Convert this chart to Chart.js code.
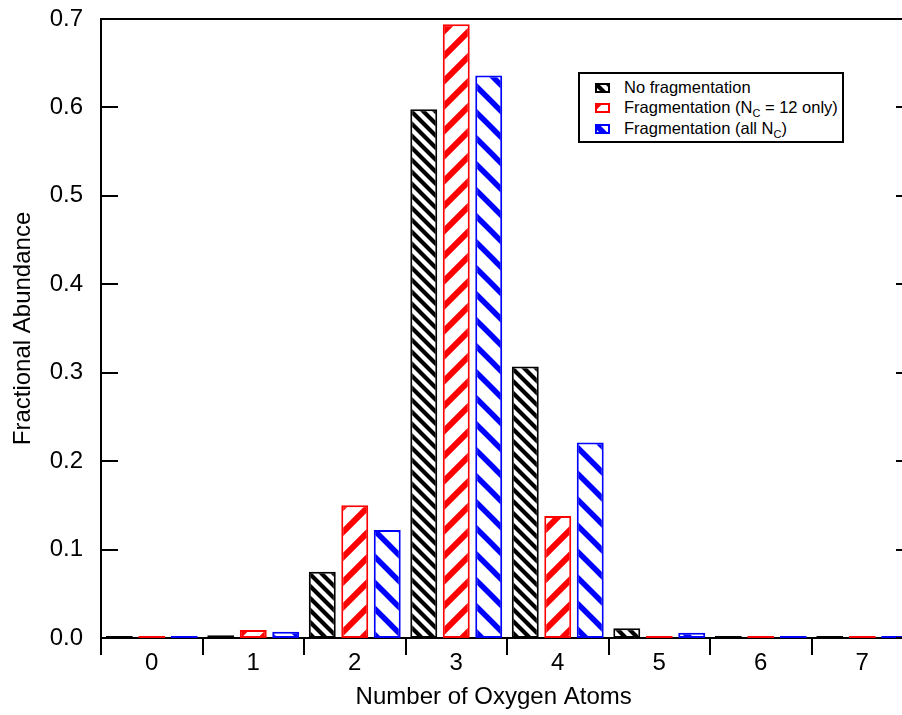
<!DOCTYPE html>
<html>
<head>
<meta charset="utf-8">
<title>Oxygen atom distribution</title>
<script src="https://cdn.jsdelivr.net/npm/chart.js@4.4.1/dist/chart.umd.min.js"></script>
<style>
  html, body { margin: 0; padding: 0; background: #fff; overflow: hidden; }
  #wrap { position: relative; width: 916px; height: 715px; }
  #legend {
    position: absolute; left: 578px; top: 72px; width: 262px; height: 67px;
    border: 2px solid #000; background: #fff;
    font: 16.5px "Liberation Sans", Arial, sans-serif; color: #000;
  }
  #legend .row { position: absolute; left: 15px; height: 20px; line-height: 20px; white-space: nowrap; }
  #legend .sw { display: inline-block; width: 11px; height: 6px; border: 2px solid; vertical-align: middle; margin-right: 14px; position: relative; top: -1px; }
  #legend sub { font-size: 11px; vertical-align: -4px; line-height: 0; }
</style>
</head>
<body>
<div id="wrap">
  <canvas id="chart" width="916" height="715"></canvas>
  <div id="legend"></div>
</div>
<script>
(function () {
    'use strict';

    // number of O atoms per molecule
    const oxygenAtoms = ['0', '1', '2', '3', '4', '5', '6', '7'];
    const noFrag   = [0.000, 0.003, 0.075, 0.598, 0.307, 0.011, 0.000, 0.000];
    const fragNc12 = [0.000, 0.009, 0.150, 0.694, 0.138, 0.000, 0.000, 0.000];
    const fragAll  = [0.000, 0.007, 0.122, 0.636, 0.221, 0.006, 0.000, 0.000];
    const seriesLabels = [
        'No fragmentation',
        'Fragmentation (N<sub>C</sub> = 12 only)',
        'Fragmentation (all N<sub>C</sub>)'
    ];
    const seriesColors = ['#000000', '#ff0000', '#0000ff'];

    const FONT = '"Liberation Sans", Arial, sans-serif';

    // diagonal hatch tile; dir 1 = "\" , dir -1 = "/"
    function hatch(color, size, width, dir) {
        const c = document.createElement('canvas');
        c.width = c.height = size;
        const g = c.getContext('2d');
        g.fillStyle = '#fff';
        g.fillRect(0, 0, size, size);
        g.strokeStyle = color;
        g.lineWidth = width;
        g.beginPath();
        for (let k = -1; k <= 2; k++) {
            if (dir > 0) { g.moveTo(-size, -size + k * size); g.lineTo(2 * size, 2 * size + k * size); }
            else { g.moveTo(-size, size + k * size); g.lineTo(2 * size, -2 * size + k * size); }
        }
        g.stroke();
        return c;
    }

    const tiles = [
        hatch(seriesColors[0], 12, 4.2, 1),
        hatch(seriesColors[1], 25, 6, -1),
        hatch(seriesColors[2], 26, 5.5, 1)
    ];

    const ctx = document.getElementById('chart').getContext('2d');
    const fills = tiles.map(t => ctx.createPattern(t, 'repeat'));

    const dataSets = [noFrag, fragNc12, fragAll].map((vals, i) => ({
        label: seriesLabels[i].replace(/<\/?sub>/g, ''),
        data: vals,
        backgroundColor: fills[i],
        borderColor: seriesColors[i],
        borderWidth: 2,
        borderSkipped: false,
        minBarLength: 2,
        categoryPercentage: 0.96,
        barPercentage: 0.83
    }));

    // top frame line plus inward ticks on both vertical sides
    const framePlugin = {
        id: 'frame',
        afterDatasetsDraw(chart) {
            const a = chart.chartArea, y = chart.scales.y, c = chart.ctx;
            c.save();
            c.strokeStyle = '#000';
            c.lineWidth = 2;
            c.beginPath();
            c.moveTo(a.left, a.top); c.lineTo(a.right, a.top); c.lineTo(a.right, a.bottom);
            y.ticks.forEach(t => {
                const py = Math.round(y.getPixelForValue(t.value));
                c.moveTo(a.left, py); c.lineTo(a.left + 17, py);
                c.moveTo(a.right, py); c.lineTo(a.right - 17, py);
            });
            c.stroke();
            c.restore();
        }
    };

    new Chart(ctx, {
        type: 'bar',
        data: { labels: oxygenAtoms, datasets: dataSets },
        plugins: [framePlugin],
        options: {
            responsive: false,
            animation: false,
            layout: { padding: { top: 19, right: 3, left: 0, bottom: 0 } },
            plugins: { legend: { display: false }, tooltip: { enabled: false } },
            scales: {
                x: {
                    grid: { offset: true, drawOnChartArea: false, tickLength: 17, lineWidth: 2, color: '#000' },
                    border: { color: '#000', width: 2 },
                    ticks: { color: '#000', font: { family: FONT, size: 24 }, padding: -6 },
                    title: { display: true, text: 'Number of Oxygen Atoms    ', color: '#000',
                             font: { family: FONT, size: 24 }, padding: { top: 0, bottom: 3 } },
                    afterFit: s => { s.height = 77; }
                },
                y: {
                    min: 0, max: 0.7,
                    grid: { display: false },
                    border: { color: '#000', width: 2 },
                    ticks: { stepSize: 0.1, color: '#000', font: { family: FONT, size: 24 }, padding: 10,
                             callback: v => v.toFixed(1) },
                    title: { display: true, text: 'Fractional Abundance', color: '#000',
                             font: { family: FONT, size: 24 }, padding: { top: 9, bottom: 0 } },
                    afterFit: s => { s.width = 101; s.paddingTop = 0; s.paddingBottom = 0; }
                }
            }
        }
    });

    // legend with subscripts, swatches reuse the hatch tiles
    document.getElementById('legend').innerHTML = seriesLabels.map((lbl, i) =>
        `<div class="row" style="top:${[3, 23, 44][i]}px"><span class="sw" style="border-color:${seriesColors[i]};background-image:url(${tiles[i].toDataURL()})"></span>${lbl}</div>`
    ).join('');
})();
</script>
</body>
</html>
